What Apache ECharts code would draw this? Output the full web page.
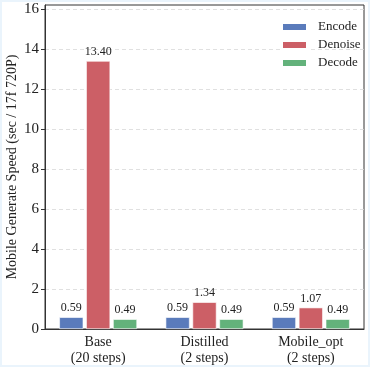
<!DOCTYPE html>
<html>
<head>
<meta charset="utf-8">
<script src="https://cdn.jsdelivr.net/npm/echarts@6/dist/echarts.min.js"></script>
<style>
html,body{margin:0;padding:0;background:#fff;}
#wrap{position:relative;width:370px;height:367px;}
#chart{position:absolute;left:0;top:0;width:370px;height:367px;}
#frame{position:absolute;left:0;top:0;width:370px;height:367px;box-sizing:border-box;border:2px solid #eaf4fc;pointer-events:none;}
</style>
</head>
<body>
<div id="wrap"><div id="chart"></div><div id="frame"></div></div>
<script>
const categories = ['Base\n(20 steps)', 'Distilled\n(2 steps)', 'Mobile_opt\n(2 steps)'];
const seriesNames = ['Encode', 'Denoise', 'Decode'];
const encodeVals = [0.59, 0.59, 0.59];
const denoiseVals = [13.40, 1.34, 1.07];
const decodeVals = [0.49, 0.49, 0.49];
const yTicks = [0, 2, 4, 6, 8, 10, 12, 14, 16];

const FONT = 'Liberation Serif';
const colors = ['#5a7bbb', '#cc5f66', '#63b27b'];
const dataSets = [encodeVals, denoiseVals, decodeVals];

const chart = echarts.init(document.getElementById('chart'), null, {renderer: 'canvas'});
chart.setOption({
  animation: false,
  backgroundColor: '#fff',
  textStyle: {fontFamily: FONT},
  grid: {left: 45, right: 6, top: 5, bottom: 38, containLabel: false, outerBoundsMode: 'none',
    show: true, borderColor: '#333', borderWidth: 1, backgroundColor: 'transparent'},
  legend: {
    orient: 'vertical', left: 276, top: 15,
    itemWidth: 25, itemHeight: 8, itemGap: 4, icon: 'rect',
    textStyle: {fontFamily: FONT, fontSize: 13, color: '#222', lineHeight: 14, padding: [0, 0, 0, 6]},
    data: seriesNames
  },
  xAxis: {
    type: 'category', data: categories,
    axisLine: {lineStyle: {color: '#333', width: 1}},
    axisTick: {alignWithLabel: true, length: 4, lineStyle: {color: '#333'}},
    axisLabel: {fontFamily: FONT, fontSize: 14, color: '#222', lineHeight: 16, margin: 5}
  },
  yAxis: {
    type: 'value', min: 0, max: 16.2, interval: 2,
    name: 'Mobile Generate Speed (sec / 17f 720P)',
    nameLocation: 'middle', nameGap: 26, nameMoveOverlap: false,
    nameTextStyle: {fontFamily: FONT, fontSize: 14, color: '#222'},
    axisLine: {show: true, lineStyle: {color: '#333', width: 1}},
    axisTick: {show: true, length: 4, lineStyle: {color: '#333'}, customValues: yTicks},
    axisLabel: {fontFamily: FONT, fontSize: 15, color: '#222', margin: 6, customValues: yTicks},
    splitLine: {show: true, lineStyle: {color: '#d8d8d8', type: [4, 3], width: 0.8}}
  },
  series: seriesNames.map((name, i) => ({
    name: name, type: 'bar', data: dataSets[i],
    barWidth: 24, barGap: '12%',
    itemStyle: {color: colors[i], borderColor: '#fff', borderWidth: 0.6},
    label: {show: true, position: 'top', distance: 3, fontFamily: FONT, fontSize: 12, color: '#222',
      formatter: p => p.value.toFixed(2)}
  }))
});
</script>
</body>
</html>
